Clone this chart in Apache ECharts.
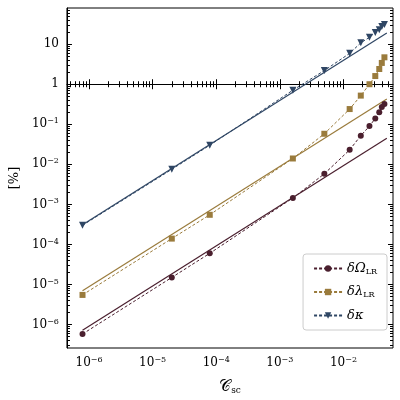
<!DOCTYPE html>
<html>
<head>
<meta charset="UTF-8">
<script src="https://cdn.jsdelivr.net/npm/echarts@6/dist/echarts.min.js"></script>
</head>
<body style="margin:0">
<div id="main" style="width:400px;height:400px;"></div>
<script>
// sample positions
var xs = [7.9e-7, 2e-5, 7.9e-5, 1.6e-3, 5e-3, 1.25e-2, 1.87e-2, 2.56e-2, 3.16e-2, 3.65e-2, 4.0e-2, 4.4e-2];
var omega = [5.8e-7, 1.5e-5, 6e-5, 1.45e-3, 5.8e-3, 0.023, 0.052, 0.09, 0.14, 0.2, 0.27, 0.32];
var lambda = [5.5e-6, 1.4e-4, 5.5e-4, 0.014, 0.058, 0.24, 0.52, 1.0, 1.6, 2.4, 3.4, 4.7];
var kappa = [3e-4, 7.5e-3, 0.03, 0.71, 2.2, 5.9, 10.8, 14.8, 19.7, 23, 27.7, 31];
// linear fits (endpoints)
var fitX = [7.9e-7, 0.048];
var omegaFit = [7.2e-7, 0.045];
var lambdaFit = [7e-6, 0.43];
var kappaFit = [3.1e-4, 19];
var xDecades = [-6, -5, -4, -3, -2];
var yDecades = [-6, -5, -4, -3, -2, -1, 0, 1];

var cO = '#4a1f2e', cL = '#9a7b3c', cK = '#2f4664';
var L = Math.log10;
function pairs(x, y) { return x.map(function (v, i) { return [L(v), L(y[i])]; }); }
function minors(lo, hi) {
  var out = [];
  for (var e = lo; e <= hi; e++) for (var k = 2; k <= 9; k++) out.push(e + L(k));
  return out;
}
var sup = {fontSize: 8, verticalAlign: 'top', padding: [0, 0, 6, 0], color: '#000', fontFamily: 'DejaVu Serif'};
function expLabel(e) {
  e = Math.round(e);
  if (e === 0) return '1';
  if (e === 1) return '10';
  return '10{s|' + String(e).replace('-', '\u2212') + '}';
}
function dashed(name, data, color, sym, size) {
  return {name: name, type: 'line', data: data, symbol: sym, symbolSize: size,
    lineStyle: {color: color, width: 1, type: [3, 2]}, itemStyle: {color: color}};
}
function solid(data, color) {
  return {type: 'line', data: data, symbol: 'none', lineStyle: {color: color, width: 1.2}};
}
function axes(min, max, decades, pos, minorPos, extra) {
  var base = {type: 'value', min: min, max: max, splitLine: {show: false}};
  var main = Object.assign({}, base, {position: pos,
    axisLine: {show: true, lineStyle: {color: '#000'}},
    axisTick: {inside: true, length: 5, customValues: decades, lineStyle: {color: '#000'}},
    axisLabel: {color: '#000', fontSize: 12, fontFamily: 'DejaVu Serif', customValues: decades, formatter: expLabel, rich: {s: sup}}
  }, extra);
  function tickAxis(p, vals, len) {
    return Object.assign({}, base, {position: p, axisLine: {show: false}, axisLabel: {show: false},
      axisTick: {inside: true, length: len, customValues: vals, lineStyle: {color: '#000'}}});
  }
  var mn = minors(Math.floor(min), Math.ceil(max)).filter(function (v) { return v > min && v < max; });
  return [main, tickAxis(pos, mn, 3), tickAxis(minorPos, decades, 5), tickAxis(minorPos, mn, 3)];
}
var option = {
  animation: false,
  grid: {left: 53, right: 7, top: 8, bottom: 47, show: true, borderColor: '#000', borderWidth: 1},
  xAxis: axes(L(4.5e-7), L(0.06), xDecades, 'bottom', 'top', {
    name: '{c|\uD835\uDC9E}{s|sc}', nameLocation: 'middle', nameGap: 30,
    nameTextStyle: {fontSize: 16, color: '#000', rich: {c: {fontSize: 16, fontFamily: 'DejaVu Serif', color: '#000'},
      s: {fontSize: 9, verticalAlign: 'bottom', padding: [8, 0, 0, 0], fontFamily: 'DejaVu Serif', color: '#000'}}}}),
  yAxis: axes(L(2.6e-7), L(80), yDecades, 'left', 'right', {
    name: '[%]', nameLocation: 'middle', nameGap: 38,
    nameTextStyle: {fontSize: 13, color: '#000', fontFamily: 'DejaVu Serif'}}),
  legend: {
    right: 13, bottom: 70, orient: 'vertical', itemWidth: 28, itemHeight: 8, itemGap: 10,
    backgroundColor: '#fff', borderColor: '#ccc', borderWidth: 1, borderRadius: 3, padding: [8, 10],
    data: ['om', 'la', 'ka'],
    formatter: function (n) {
      return {om: '{i|\u03B4\u03A9}{s|LR}', la: '{i|\u03B4\u03BB}{s|LR}', ka: '{i|\u03B4\u03BA}'}[n];
    },
    textStyle: {fontSize: 13, color: '#000',
      rich: {i: {fontSize: 13, fontFamily: 'DejaVu Serif', fontStyle: 'italic', color: '#000'},
        s: {fontSize: 8, verticalAlign: 'bottom', padding: [6, 0, 0, 0], fontFamily: 'DejaVu Serif', color: '#000'}}}
  },
  series: [
    solid(pairs(fitX, omegaFit), cO),
    solid(pairs(fitX, lambdaFit), cL),
    solid(pairs(fitX, kappaFit), cK),
    dashed('om', pairs(xs, omega), cO, 'circle', 6),
    dashed('la', pairs(xs, lambda), cL, 'rect', 6),
    dashed('ka', pairs(xs, kappa), cK, 'triangle', 7)
  ]
};
option.series[5].symbolRotate = 180;
var myChart = echarts.init(document.getElementById('main'));
myChart.setOption(option);
</script>
</body>
</html>
